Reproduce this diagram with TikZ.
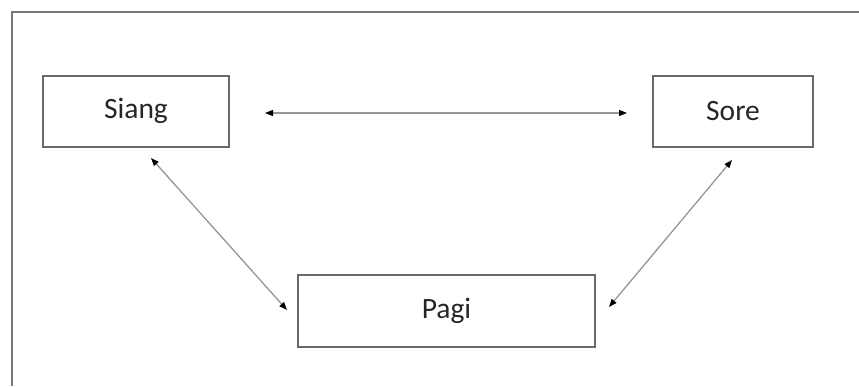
\documentclass[tikz,border=0pt]{standalone}
\usepackage{fontspec}
\setmainfont{Carlito}
\usetikzlibrary{arrows.meta}
\definecolor{boxgray}{RGB}{105,105,105}
\definecolor{framegray}{RGB}{120,120,120}
\definecolor{linegray}{RGB}{150,150,150}

\begin{document}
\begin{tikzpicture}[x=1pt,y=-1pt,font=\fontsize{29.5}{35}\selectfont,
  waktu/.style={draw=boxgray,line width=2pt,inner sep=0pt,text=black!85},
  panah/.style={{Triangle[length=8pt,width=6pt,color=black]}-{Triangle[length=8pt,width=6pt,color=black]},draw=linegray,line width=1.3pt}]
  \useasboundingbox (0,0) rectangle (859,386);
  % bingkai luar
  \draw[framegray,line width=2pt] (12,386) -- (12,12) -- (859,12);
  \node[waktu,minimum width=186pt,minimum height=71pt] (siang) at (136,111) {Siang};
  \node[waktu,minimum width=160pt,minimum height=71pt] (sore) at (733,111) {Sore};
  \node[waktu,minimum width=297pt,minimum height=72pt] (pagi) at (446.5,311) {Pagi};
  % ujung panah
  \coordinate (sg1) at (265,113);
  \coordinate (sr1) at (627,113);
  \coordinate (sg2) at (151,158);
  \coordinate (pg1) at (287,310);
  \coordinate (sr2) at (732,160);
  \coordinate (pg2) at (609,307);
  \draw[panah] (sg1) -- (sr1);
  \draw[panah] (sg2) -- (pg1);
  \draw[panah] (sr2) -- (pg2);
\end{tikzpicture}
\end{document}
